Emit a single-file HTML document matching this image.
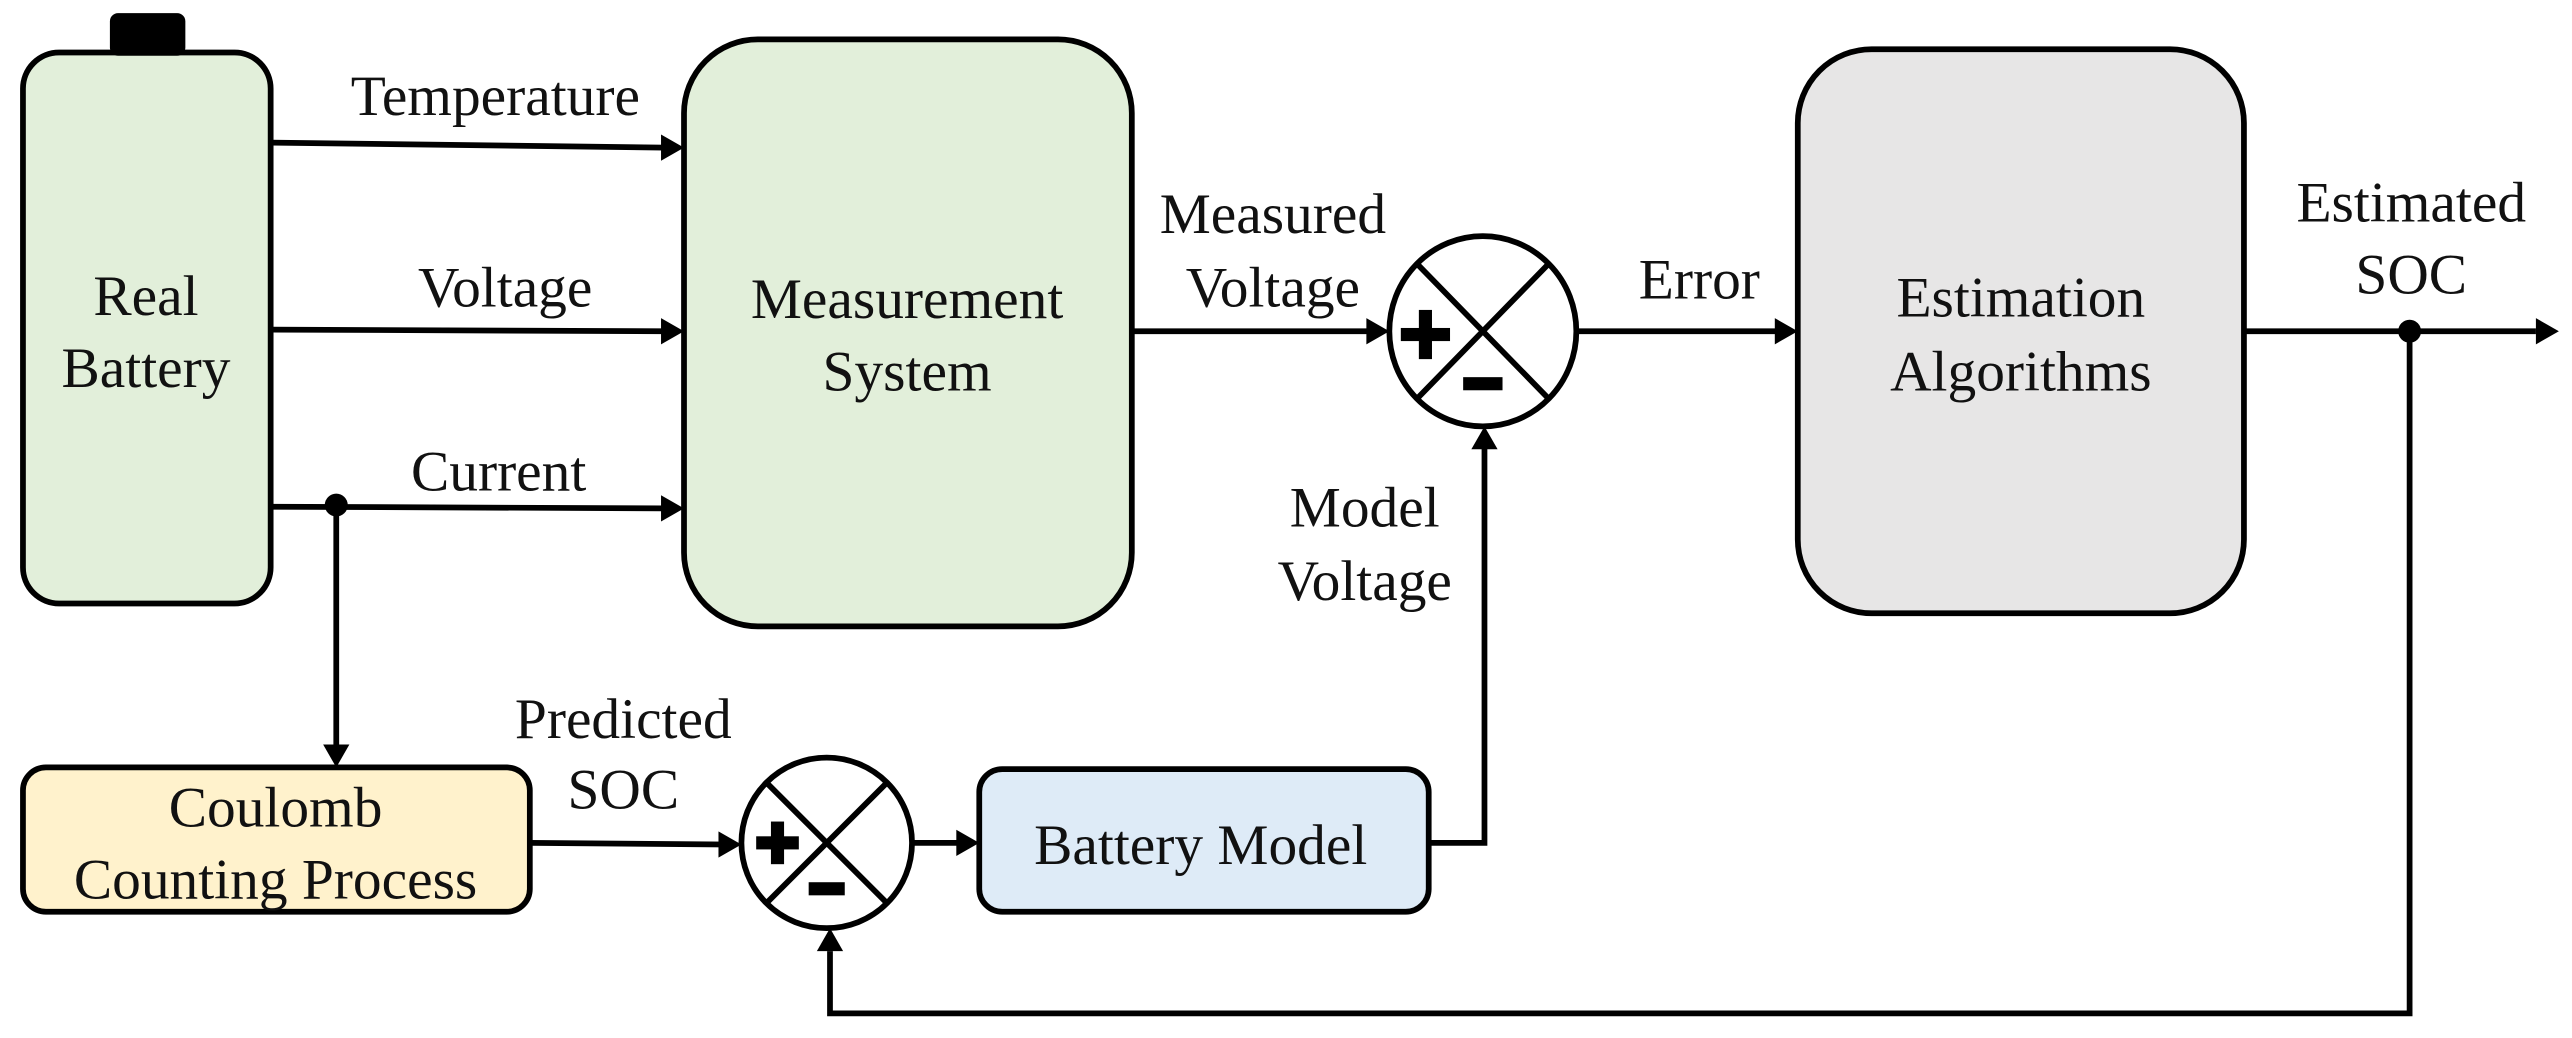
<!DOCTYPE html>
<html><head><meta charset="utf-8"><style>
html,body{margin:0;padding:0;background:#fff;}
svg{display:block;}
text{font-family:"Liberation Serif","Times New Roman",serif;font-size:35px;fill:#111;}
</style></head><body>
<svg width="2572" height="1038" viewBox="0 0 1568 633" preserveAspectRatio="none" xmlns="http://www.w3.org/2000/svg">
<g stroke="#000" stroke-width="3.5" fill="none">
<rect x="14" y="32" width="151" height="336" rx="22" fill="#e2efda"/>
<rect x="417" y="24" width="273" height="358" rx="45" fill="#e2efda"/>
<rect x="1096" y="30" width="272" height="344" rx="45" fill="#e7e6e6"/>
<rect x="14" y="468" width="309" height="88" rx="14" fill="#fff2cc"/>
<rect x="597" y="469" width="274" height="87" rx="14" fill="#deebf7"/>
<ellipse cx="904" cy="202" rx="57" ry="58" fill="#fff"/>
<line x1="864" y1="161" x2="944" y2="243"/><line x1="944" y1="161" x2="864" y2="243"/>
<ellipse cx="504" cy="514" rx="52" ry="52" fill="#fff"/>
<line x1="467" y1="477" x2="541" y2="551"/><line x1="541" y1="477" x2="467" y2="551"/>
<line x1="165" y1="87" x2="405" y2="90"/>
<line x1="165" y1="201" x2="405" y2="202"/>
<line x1="165" y1="309" x2="405" y2="310"/>
<line x1="205" y1="309" x2="205" y2="455"/>
<line x1="690" y1="202" x2="836" y2="202"/>
<line x1="961" y1="202" x2="1084" y2="202"/>
<line x1="1368" y1="202" x2="1546" y2="202"/>
<polyline points="1469,202 1469,618 506,618 506,580"/>
<line x1="323" y1="514" x2="442" y2="515"/>
<line x1="556" y1="514" x2="585" y2="514"/>
<polyline points="871,514 905,514 905,272"/>
</g>
<g fill="#000">
<rect x="67" y="8" width="46" height="26" rx="5"/>
<circle cx="205" cy="308" r="7"/>
<circle cx="1469" cy="202" r="7"/>
<polygon points="417,90 403,82 403,98"/>
<polygon points="417,202 403,194 403,210"/>
<polygon points="417,310 403,302 403,318"/>
<polygon points="205,468 197,454 213,454"/>
<polygon points="847,202 833,194 833,210"/>
<polygon points="1096,202 1082,194 1082,210"/>
<polygon points="1560,202 1546,194 1546,210"/>
<polygon points="452,515 438,507 438,523"/>
<polygon points="597,514 583,506 583,522"/>
<polygon points="905,260 897,274 913,274"/>
<polygon points="506,566 498,580 514,580"/>
<rect x="854" y="200" width="30" height="8"/><rect x="865" y="189" width="8" height="30"/>
<rect x="892" y="230" width="24" height="8"/>
<rect x="461" y="510" width="26" height="8"/><rect x="470" y="501" width="8" height="26"/>
<rect x="493" y="538" width="22" height="8"/>
</g>
<g text-anchor="middle">
<text x="89" y="192">Real</text>
<text x="89" y="236">Battery</text>
<text x="553" y="194">Measurement</text>
<text x="553" y="238">System</text>
<text x="1232" y="193">Estimation</text>
<text x="1232" y="238">Algorithms</text>
<text x="168" y="504">Coulomb</text>
<text x="168" y="548">Counting Process</text>
<text x="732" y="527">Battery Model</text>
<text x="302" y="70">Temperature</text>
<text x="308" y="187">Voltage</text>
<text x="304" y="299">Current</text>
<text x="776" y="142">Measured</text>
<text x="776" y="187">Voltage</text>
<text x="1036" y="182">Error</text>
<text x="1470" y="135">Estimated</text>
<text x="1470" y="179">SOC</text>
<text x="380" y="450">Predicted</text>
<text x="380" y="493">SOC</text>
<text x="832" y="321">Model</text>
<text x="832" y="366">Voltage</text>
</g>
</svg>
</body></html>
